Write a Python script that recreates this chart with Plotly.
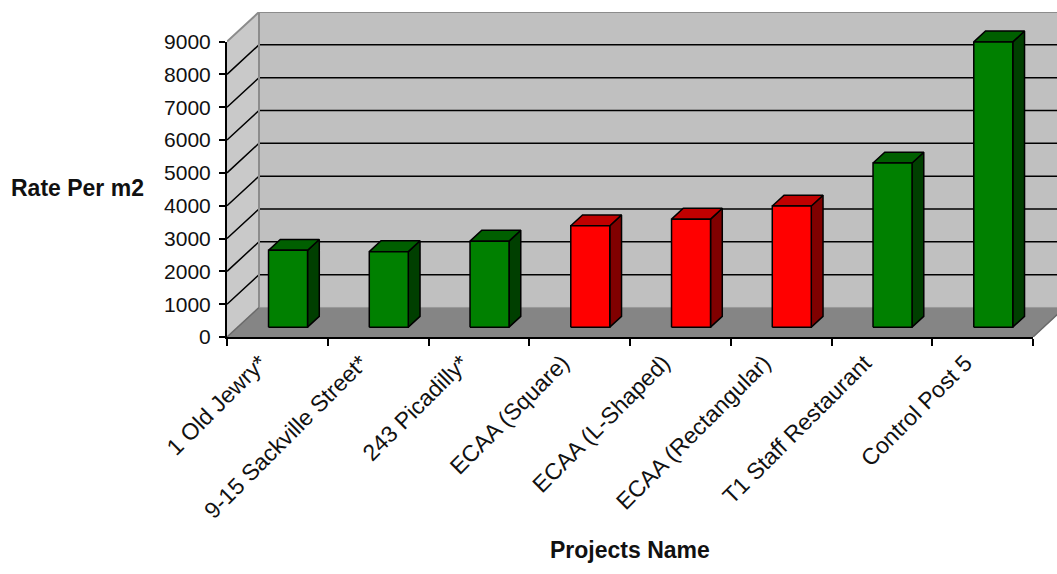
import plotly.graph_objects as go

# ---- data ----
categories = ["1 Old Jewry*", "9-15 Sackville Street*", "243 Picadilly*", "ECAA (Square)",
              "ECAA (L-Shaped)", "ECAA (Rectangular)", "T1 Staff Restaurant", "Control Post 5"]
rates = [2340, 2300, 2620, 3090, 3290, 3690, 5000, 8690]
groups = ["g", "g", "g", "r", "r", "r", "g", "g"]
y_ticks = [0, 1000, 2000, 3000, 4000, 5000, 6000, 7000, 8000, 9000]

# ---- styling / geometry ----
W, H = 1057, 574
ML, MR, MT, MB = 227, 0, 8, 237
plot_w, plot_h = W - ML - MR, H - MT - MB
px_per_cat = 100.75
px_per_val = 300 / 9000.0
XMAX = plot_w / px_per_cat
DX = 32 / px_per_cat          # wall depth (x units)
DY = 30 / px_per_val          # wall depth (value units)
YTOP = 9000 + DY
HW = 19.5 / px_per_cat        # half width of bar
D0, D1 = 0.333, 0.70          # bar depth fractions

face_cols = {"g": ("#008000", "#005f00", "#003f00"),
             "r": ("#ff0000", "#c00000", "#800000")}

fig = go.Figure()


def poly(xs, ys, fill, line="black", lw=1.5):
    fig.add_trace(go.Scatter(x=xs + [xs[0]], y=ys + [ys[0]], mode="lines", fill="toself",
                             fillcolor=fill, line=dict(color=line, width=lw),
                             hoverinfo="skip", showlegend=False))


def seg(xs, ys, color, lw=1.5):
    fig.add_trace(go.Scatter(x=xs, y=ys, mode="lines", line=dict(color=color, width=lw),
                             hoverinfo="skip", showlegend=False))


# back wall
poly([DX, XMAX + 1, XMAX + 1, DX], [DY, DY, YTOP, YTOP], "#c0c0c0", "#c0c0c0", 0.5)
# side wall
poly([0, DX, DX, 0], [0, DY, YTOP, 9000], "#c9c9c9", "#c9c9c9", 0.5)
# floor
poly([0, 8, 8 + DX, DX], [0, 0, DY, DY], "#858585", "#858585", 0.5)
seg([8, 8 + DX], [0, DY], "#6a6a6a", 1.5)

# grid lines
for v in y_ticks:
    if 0 < v < 9000:
        seg([0, DX, XMAX + 1], [v, v + DY, v + DY], "black", 1.5)
seg([0, DX, XMAX + 1], [9000, YTOP, YTOP], "#8c8c8c", 2)
seg([DX, DX], [DY, YTOP], "#8c8c8c", 2)
seg([0, DX], [0, DY], "#6a6a6a", 1.5)

# bars
for i, (v, g) in enumerate(zip(rates, groups)):
    c = i + 0.5
    front, top, side = face_cols[g]
    xl0, xr0 = c - HW + D0 * DX, c + HW + D0 * DX
    xl1, xr1 = c - HW + D1 * DX, c + HW + D1 * DX
    y0, y1 = D0 * DY, D1 * DY
    poly([xr0, xr1, xr1, xr0], [y0, y1, v + y1, v + y0], side)
    poly([xl0, xr0, xr1, xl1], [v + y0, v + y0, v + y1, v + y1], top)
    poly([xl0, xr0, xr0, xl0], [y0, y0, v + y0, v + y0], front)

# invisible trace for the front-axis subplot
fig.add_trace(go.Scatter(x=[0], y=[0], xaxis="x3", yaxis="y2", mode="markers",
                         marker=dict(opacity=0), hoverinfo="skip", showlegend=False))

font_main = "Liberation Sans, Arial, Helvetica, sans-serif"

fig.update_layout(
    width=W, height=H,
    margin=dict(l=ML, r=MR, t=MT, b=MB),
    paper_bgcolor="white", plot_bgcolor="rgba(0,0,0,0)",
    font=dict(family=font_main, color="black", size=20),
    xaxis=dict(range=[0, XMAX], domain=[0, 1], showgrid=False, zeroline=False, showline=False,
               tickmode="array", tickvals=[i + 0.5 - 0.17 for i in range(len(categories))],
               ticktext=categories, tickangle=-45, ticks="", ticklabelstandoff=7,
               tickfont=dict(size=23, color="#111")),
    yaxis=dict(range=[0, YTOP], domain=[0, 1], showgrid=False, zeroline=False,
               showline=False, showticklabels=False, ticks=""),
    xaxis3=dict(range=[0, 8], domain=[0, 8 / XMAX], anchor="y2", showgrid=False, zeroline=False,
                showline=True, linecolor="black", linewidth=2, ticks="outside", ticklen=7,
                tickwidth=1.5, tickcolor="black", tickvals=list(range(9)), showticklabels=False),
    yaxis2=dict(range=[0, 9000], domain=[0, 9000 / YTOP], anchor="x3", showgrid=False,
                zeroline=False, showline=True, linecolor="black", linewidth=2,
                ticks="outside", ticklen=6, tickwidth=1.5, tickcolor="black",
                tickvals=y_ticks, ticktext=[str(t) for t in y_ticks], ticklabelstandoff=4,
                tickfont=dict(size=21, color="#111")),
    annotations=[
        dict(text="<b>Rate Per m2</b>", xref="paper", yref="paper",
             x=(146 - ML) / plot_w, y=(H - MB - 186) / plot_h, xanchor="right", yanchor="middle",
             showarrow=False, font=dict(size=23, color="#111")),
        dict(text="<b>Projects Name</b>", xref="paper", yref="paper",
             x=(630 - ML) / plot_w, y=(H - MB - 553) / plot_h, xanchor="center", yanchor="middle",
             showarrow=False, font=dict(size=23, color="#111")),
    ],
)

fig.write_html("out.html")
